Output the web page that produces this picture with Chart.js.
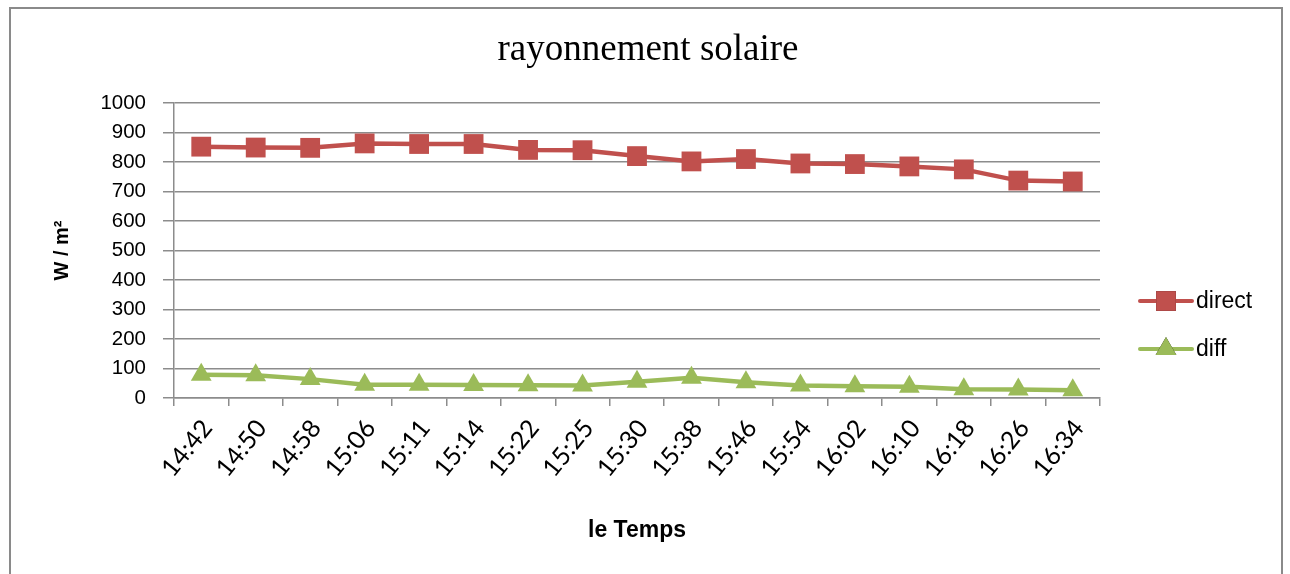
<!DOCTYPE html>
<html>
<head>
<meta charset="utf-8">
<title>rayonnement solaire</title>
<script src="https://cdn.jsdelivr.net/npm/chart.js@4.4.1/dist/chart.umd.min.js"></script>
<style>
  html, body { margin: 0; padding: 0; background: #fff; }
  #wrap { position: relative; width: 1290px; height: 574px; overflow: hidden; }
  #frame {
    position: absolute; left: 9px; top: 7px; width: 1274px; height: 600px;
    border: 2px solid #8a8a8a; box-sizing: border-box;
  }
  canvas { position: absolute; left: 0; top: 0; }
</style>
</head>
<body>
<div id="wrap">
  <div id="frame"></div>
  <canvas id="myChart" width="1290" height="574"></canvas>
</div>
<script>
/* series data */
const heures = ["14:42", "14:50", "14:58", "15:06", "15:11", "15:14", "15:22", "15:25", "15:30",
  "15:38", "15:46", "15:54", "16:02", "16:10", "16:18", "16:26", "16:34"];
const direct = [852, 849, 848, 863, 861, 861, 841, 840, 820, 802, 810, 795, 793, 785, 775, 737, 734];
const diff = [79, 77, 64, 45, 45, 44, 43, 42, 55, 69, 53, 42, 40, 38, 30, 29, 26];
const yTicks = [0, 100, 200, 300, 400, 500, 600, 700, 800, 900, 1000];

const ROUGE = "#c0504d";
const VERT = "#9bbb59";
const GRIS = "#8c8c8c";
const police = "'Liberation Sans', Arial, sans-serif";

/* centred title + legend (line with marker through it) */
const decor = {
  id: "decor",
  afterDraw(chart) {
    const ctx = chart.ctx;
    ctx.save();
    ctx.fillStyle = "#000";
    ctx.font = "37px 'Liberation Serif', 'Times New Roman', serif";
    ctx.textAlign = "center";
    ctx.textBaseline = "alphabetic";
    ctx.fillText("rayonnement solaire", 648, 60);

    const items = [
      { label: "direct", color: ROUGE, style: "rect", r: 14, y: 301 },
      { label: "diff", color: VERT, style: "triangle", r: 12, y: 349 }
    ];
    ctx.textAlign = "left";
    items.forEach(function (it) {
      ctx.strokeStyle = it.color;
      ctx.lineWidth = 4;
      ctx.lineCap = "round";
      ctx.beginPath();
      ctx.moveTo(1140, it.y);
      ctx.lineTo(1192, it.y);
      ctx.stroke();
      Chart.helpers.drawPoint(ctx, { pointStyle: it.style, radius: it.r, borderWidth: 0 }, 1166, it.y);
      ctx.fillStyle = it.color;
      ctx.fill();
      ctx.fillStyle = "#000";
      ctx.font = "23px " + police;
      ctx.textBaseline = "middle";
      ctx.fillText(it.label, 1196, it.y + 1);
    });
    ctx.restore();
  }
};

const ctx = document.getElementById("myChart");

new Chart(ctx, {
  type: "line",
  data: {
    labels: heures,
    datasets: [
      {
        label: "direct",
        data: direct,
        borderColor: ROUGE,
        backgroundColor: ROUGE,
        borderWidth: 4.5,
        pointStyle: "rect",
        pointRadius: 14,
        pointBorderWidth: 0,
        tension: 0
      },
      {
        label: "diff",
        data: diff,
        borderColor: VERT,
        backgroundColor: VERT,
        borderWidth: 4.5,
        pointStyle: "triangle",
        pointRadius: 12,
        pointBorderWidth: 0,
        tension: 0
      }
    ]
  },
  options: {
    responsive: false,
    animation: false,
    layout: { padding: { left: 50, right: 190, top: 103, bottom: 0 } },
    scales: {
      x: {
        offset: true,
        grid: { offset: true, drawOnChartArea: false, drawTicks: true, tickLength: 8, color: GRIS, lineWidth: 1.5 },
        border: { color: GRIS, width: 1.5 },
        ticks: {
          minRotation: 51, maxRotation: 51, padding: 8, labelOffset: 6,
          color: "#000", font: { family: "Lato, 'Open Sans', sans-serif", size: 25 }
        },
        title: {
          display: true, text: "le Temps", color: "#000",
          font: { family: police, size: 23, weight: "bold" },
          padding: { top: 0, bottom: 30 }
        },
        afterFit(scale) { scale.height = 176; }
      },
      y: {
        min: 0,
        max: 1000,
        afterBuildTicks(scale) { scale.ticks = yTicks.map(v => ({ value: v })); },
        grid: { color: GRIS, lineWidth: 1.5, tickLength: 11 },
        border: { color: GRIS, width: 1.5 },
        ticks: {
          padding: 17, color: "#000", font: { family: police, size: 20.5 },
          callback: v => String(v)
        },
        title: {
          display: true, text: "W / m²", color: "#000",
          font: { family: police, size: 20, weight: "bold" },
          padding: { top: 0, bottom: 0 }
        },
        afterFit(scale) { scale.width = 124; }
      }
    },
    plugins: {
      legend: { display: false },
      tooltip: { enabled: false },
      title: { display: false }
    }
  },
  plugins: [decor]
});
</script>
</body>
</html>
